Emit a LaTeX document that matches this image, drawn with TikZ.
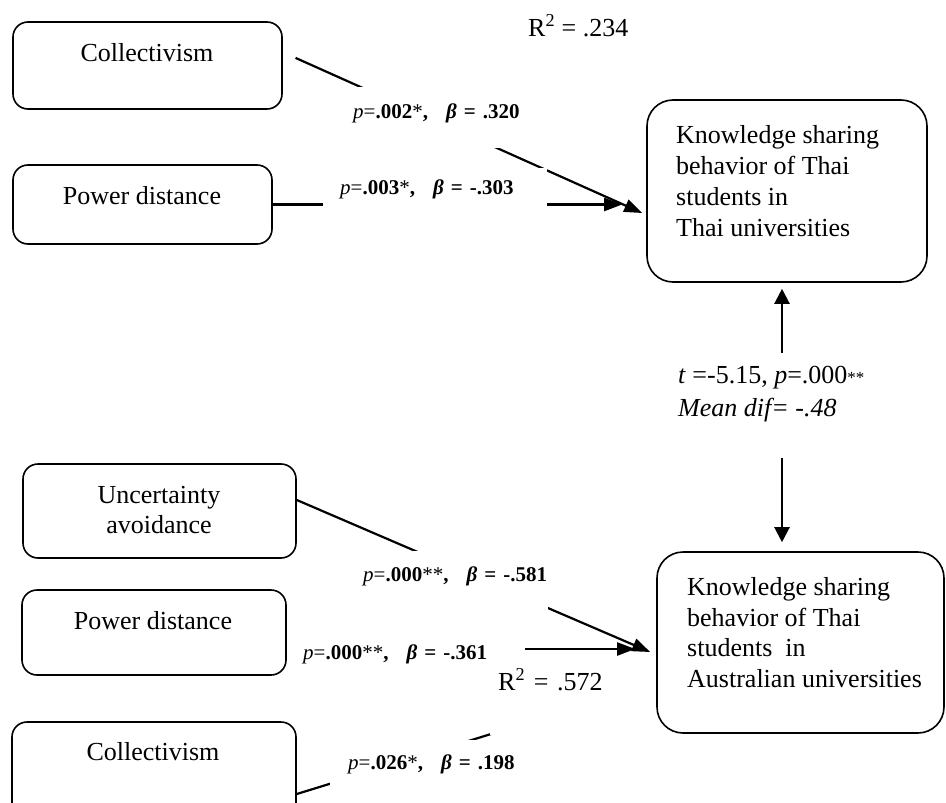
\documentclass[tikz,border=0pt]{standalone}
\usepackage{fontspec}
\setmainfont{Liberation Serif}
\usetikzlibrary{arrows.meta,calc}
\begin{document}
\begin{tikzpicture}[x=1pt,y=-1pt,
  lbox/.style={draw, line width=1.6pt, rounded corners=15pt, inner sep=0pt},
  rbox/.style={draw, line width=1.6pt, rounded corners=26pt, inner sep=0pt},
  big/.style={font=\fontsize{26}{31}\selectfont, inner sep=0pt},
  lab/.style={font=\fontsize{21}{24}\selectfont, inner sep=0pt, fill=white, anchor=base west, align=left},
  conn/.style={line width=2.2pt},
  arr/.style={conn, -{Triangle[length=18pt,width=13pt]}},
  varr/.style={conn, {Triangle[length=15pt,width=15pt]}-{Triangle[length=15pt,width=15pt]}},
]
\path[use as bounding box, fill=white] (0,0) rectangle (946,803);
\clip (0,0) rectangle (946,803);

% boxes
\node[lbox, minimum width=269pt, minimum height=87pt] (c1) at (147.5,65.5) {};
\node[lbox, minimum width=259pt, minimum height=79pt] (p1) at (142.5,204.5) {};
\node[lbox, minimum width=273pt, minimum height=94pt] (ua) at (159.5,511) {};
\node[lbox, minimum width=264pt, minimum height=85pt] (p2) at (154,632.5) {};
\node[lbox, minimum width=284pt, minimum height=108pt] (c2) at (154,776) {};
\node[rbox, minimum width=280pt, minimum height=182pt] (thai) at (787,191) {};
\node[rbox, minimum width=287pt, minimum height=181pt] (aus) at (800.5,642.5) {};

% box texts
\node[big, anchor=base] (c1t) at (147,61) {Collectivism};
\node[big, anchor=base] (p1t) at (142,204.3) {Power distance};
\node[big, anchor=north, align=center, font=\fontsize{26}{30}\selectfont] (uat) at (159,485.8) {Uncertainty\\avoidance};
\node[big, anchor=base] (p2t) at (153,629) {Power distance};
\node[big, anchor=base] (c2t) at (153,760) {Collectivism};
\node[big, anchor=north west, align=left] (thait) at (676,125.5) {Knowledge sharing\\behavior of Thai\\students in\\Thai universities};
\node[big, anchor=north west, align=left, font=\fontsize{26}{30.5}\selectfont] (aust) at (687,577.7) {Knowledge sharing\\behavior of Thai\\students\ \ in\\Australian universities};

% connectors
\draw[arr, shorten <=14pt] ([yshift=13.3pt]c1.east) -- ([shift={(-4pt,-22pt)}]thai.west);
\draw[arr, shorten >=24pt] (p1.east) -- (p1.east -| thai.west);
\draw[arr] ([yshift=11pt]ua.east) -- ([shift={(-6pt,-9.5pt)}]aus.west);
\draw[arr, shorten >=21pt] ([yshift=-16.5pt]p2.east) -- ([yshift=-16.5pt]p2.east -| aus.west);
\draw[conn, shorten >=4pt] ([yshift=-18pt]c2.east) -- ([yshift=-40.5pt]aus.west);
\draw[varr, shorten <=6pt, shorten >=9pt] ([xshift=-5pt]thai.south) -- ([xshift=-5pt]thai.south |- aus.north);

% labels
\node[big, anchor=base west] (r2a) at (528,36) {R\textsuperscript{2} = .234};
\node[lab, text width=190pt, text height=31.5pt, text depth=29.5pt] (l1) at (342,118.5)
  {\mbox{\hspace*{11pt}\textit{p}=\textbf{.002}*\textbf{,}\hspace{18pt}\textbf{\textit{β} = .320}}};
\node[lab, text width=224pt, text height=26.5pt, text depth=40.5pt] (l2) at (323,194.5)
  {\mbox{\hspace*{17pt}\textit{p}=\textbf{.003}*\textbf{,}\hspace{18pt}\textbf{\textit{β} = -.303}}};
\node[lab, text width=198pt, text height=30.5pt, text depth=33.5pt] (l3) at (350,581.5)
  {\mbox{\hspace*{13pt}\textit{p}=\textbf{.000}**\textbf{,}\hspace{18pt}\textbf{\textit{β} = -.581}}};
\node[lab, text width=238.5pt, text height=31.5pt, text depth=30.5pt] (l4) at (286.5,659.5)
  {\mbox{\hspace*{16.5pt}\textit{p}=\textbf{.000}**\textbf{,}\hspace{18pt}\textbf{\textit{β} = -.361}}};
\node[lab, text width=200pt, text height=29.5pt, text depth=33.5pt] (l5) at (330,769.5)
  {\mbox{\hspace*{18pt}\textit{p}=\textbf{.026}*\textbf{,}\hspace{18pt}\textbf{\textit{β} = .198}}};
\node[lab, font=\fontsize{26}{31}\selectfont, text width=165pt, text height=30pt, text depth=45pt] (r2b) at (490,690)
  {\mbox{\hspace*{8pt}R\textsuperscript{2} = .572}};
\node[fill=white, anchor=north west, align=left, inner xsep=8pt, inner ysep=13.4pt,
      font=\fontsize{26}{33}\selectfont] (tlab) at (670,353)
  {\textit{t} =-5.15, \textit{p}=.000{\fontsize{17}{17}\selectfont **}\\\textit{Mean dif= -.48}\rule[-27.6pt]{0pt}{0pt}};
\end{tikzpicture}
\end{document}
